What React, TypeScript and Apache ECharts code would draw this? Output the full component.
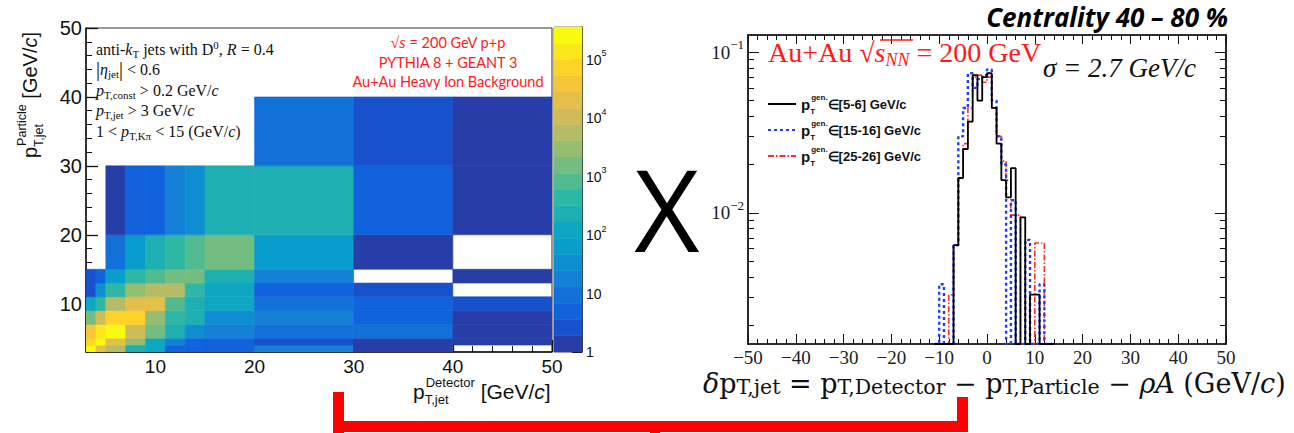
import React, { useEffect, useRef } from "react";
import * as echarts from "echarts";

/* ---------- jet pT response matrix (detector level vs particle level) ---------- */
const detectorPtEdges = [3, 4, 5, 7, 9, 11, 13, 15, 20, 30, 40, 50];
const particlePtEdges = [3, 4, 5, 7, 9, 11, 13, 15, 20, 30, 40];

// counts per cell; one array per particle-level bin, columns follow detectorPtEdges
const particleBin3to4 = [260000, 20000, 5700, 230, 120, 5, 5, 5, 18, 1, 0];
const particleBin4to5 = [73000, 260000, 20000, 3000, 120, 18, 5, 5, 3, 1, 1];
const particleBin5to7 = [39000, 140000, 260000, 11000, 1600, 230, 34, 18, 9, 9, 1];
const particleBin7to9 = [1600, 11000, 73000, 73000, 3000, 440, 230, 34, 18, 5, 1];
const particleBin9to11 = [120, 440, 5700, 20000, 20000, 830, 230, 120, 9, 5, 3];
const particleBin11to13 = [3, 34, 440, 3000, 5700, 5700, 440, 120, 5, 3, 0];
const particleBin13to15 = [3, 5, 64, 440, 830, 1600, 1600, 230, 18, 0, 1];
const particleBin15to20 = [0, 0, 9, 64, 230, 440, 830, 1600, 64, 1, 0];
const particleBin20to30 = [0, 0, 1, 5, 5, 18, 34, 230, 230, 5, 1];
const particleBin30to40 = [0, 0, 0, 0, 0, 0, 0, 0, 9, 3, 1];
const matrixRows = [
  particleBin3to4, particleBin4to5, particleBin5to7, particleBin7to9, particleBin9to11,
  particleBin11to13, particleBin13to15, particleBin15to20, particleBin20to30, particleBin30to40,
];

const zMax = 3.6e5;
const zLevels = 20;
const zLabelPowers = [0, 1, 2, 3, 4, 5];

/* ---------- delta pT distributions (1 GeV/c bins, low edges) ---------- */
const dptBinLow = [-11, -10, -9, -8, -7, -6, -5, -4, -3, -2, -1, 0, 1, 2, 3, 4, 5, 6, 7, 8, 9, 10, 11, 12, 13];
const dptBinWidth = 1;
const dptGen5to6 = [0, 0, 0, 0, 0.0063, 0.0165, 0.025, 0.037, 0.072, 0.05, 0.07, 0.074, 0.045, 0.027, 0.016, 0.0125, 0.019, 0, 0.0094, 0, 0.0031, 0.0031, 0, 0, 0];
const dptGen15to16 = [0, 0.0036, 0, 0, 0.0063, 0.03, 0.045, 0.074, 0.06, 0.068, 0.072, 0.078, 0.05, 0.03, 0.02, 0, 0.012, 0, 0, 0.0068, 0, 0, 0.0036, 0, 0];
const dptGen25to26 = [0, 0, 0, 0.0031, 0.0063, 0.0165, 0.027, 0.045, 0.07, 0.072, 0.065, 0.07, 0.045, 0.03, 0.021, 0.016, 0.0097, 0.0097, 0, 0, 0, 0.0065, 0.0065, 0, 0];
const dptRanges = ["[5-6]", "[15-16]", "[25-26]"];
const dptYMin = 1.53e-3;
const dptYMax = 0.128;

/* ---------- styling ---------- */
const SANS = "Liberation Sans";
const SERIF = "Liberation Serif";
const MATH = "DejaVu Serif";
const INK = "#111";
const RED = "#ff1a1a";

// ROOT kBird palette stops
const BIRD = [
  [0.2082, 0.1664, 0.5293], [0.0592, 0.3599, 0.8684], [0.078, 0.5041, 0.8385],
  [0.0232, 0.6419, 0.7914], [0.1802, 0.7178, 0.6425], [0.5301, 0.7492, 0.4662],
  [0.8186, 0.7328, 0.3499], [0.9956, 0.7862, 0.1968], [0.9764, 0.9832, 0.0539],
];

function birdColor(t: number) {
  const s = Math.max(0, Math.min(1, t)) * (BIRD.length - 1);
  const i = Math.min(BIRD.length - 2, Math.floor(s));
  const f = s - i;
  const c = BIRD[i].map((v, k) => Math.round(255 * (v + (BIRD[i + 1][k] - v) * f)));
  return `rgb(${c[0]},${c[1]},${c[2]})`;
}
const logZMax = Math.log10(zMax);
function levelOf(v: number) {
  return Math.max(0, Math.min(zLevels - 1, Math.floor((Math.log10(v) / logZMax) * zLevels)));
}
function levelColor(l: number) {
  return birdColor(Math.floor(((l + 0.99) * 255) / zLevels) / 254);
}

function range(a: number, b: number, step: number) {
  const r: number[] = [];
  for (let v = a; v <= b + 1e-9; v += step) r.push(Math.round(v * 1000) / 1000);
  return r;
}
function logMinor(lo: number, hi: number) {
  const r: number[] = [];
  for (let n = Math.floor(lo) - 1; n <= Math.ceil(hi); n++)
    for (let k = 2; k <= 9; k++) {
      const l = n + Math.log10(k);
      if (l > lo && l < hi) r.push(l);
    }
  return r;
}

const hmMajor = [10, 20, 30, 40, 50];
const hmMinor = range(4, 48, 2).filter((v) => v % 10 !== 0);
const dptMajor = range(-50, 50, 10);
const dptMinor = range(-48, 48, 2).filter((v) => v % 10 !== 0);

function tickAxis(extra: any, ticks: number[], len: number, line: boolean, width = 1) {
  return {
    type: "value",
    splitLine: { show: false },
    axisLine: { show: line, onZero: false, lineStyle: { color: INK, width: 1.5 } },
    axisTick: { show: true, inside: true, length: len, customValues: ticks, lineStyle: { color: INK, width } },
    axisLabel: { show: false },
    ...extra,
  };
}

// rich-text token style for graphic texts
function tok(family: string, size: number, lineHeight: number, fill: string, extra: any = {}) {
  return { fontFamily: family, fontSize: size, lineHeight, fill, ...extra };
}

function buildOption() {
  const matrixData: number[][] = [];
  matrixRows.forEach((row, j) =>
    row.forEach((c, i) => {
      if (c > 0) matrixData.push([detectorPtEdges[i], detectorPtEdges[i + 1], particlePtEdges[j], particlePtEdges[j + 1], c]);
    })
  );
  const levelData = Array.from({ length: zLevels }, (_, l) => [l]);

  const yLo = Math.log10(dptYMin);
  const yHi = Math.log10(dptYMax);
  const toLog = (v: number) => (v > 0 ? Math.log10(v) : yLo);
  const stepData = (vals: number[]) => {
    const pts = vals.map((v, i) => [dptBinLow[i], toLog(v)]);
    pts.push([dptBinLow[vals.length - 1] + dptBinWidth, toLog(vals[vals.length - 1])]);
    return pts;
  };
  const dptNames = dptRanges.map((r) => "gen " + r);
  const dptSets = [dptGen5to6, dptGen15to16, dptGen25to26];
  const dptStyles = [
    { color: "#000000", width: 1.8, type: "solid" },
    { color: "#1f3cff", width: 2.4, type: [3, 3] },
    { color: "#ff2b2b", width: 1.6, type: [6, 2, 1.5, 2] },
  ];

  const supLabel = (size: number, family: string) => ({
    s: { fontFamily: family, fontSize: size, lineHeight: size, verticalAlign: "top", color: INK },
  });

  const annRich = {
    n: tok(SERIF, 16, 20, INK),
    i: tok(SERIF, 16, 20, INK, { fontStyle: "italic" }),
    bar: tok(SERIF, 20, 20, INK),
    sb: tok(SERIF, 11, 10, INK, { verticalAlign: "bottom" }),
    ks: tok(SERIF, 11, 12, INK, { verticalAlign: "bottom" }),
    sp: tok(SERIF, 11, 11, INK, { verticalAlign: "top" }),
  };
  const titleRich = (main: number, small: number) => ({
    p: tok(SANS, main, 30, INK),
    n: tok(SANS, main, 30, INK),
    i: tok(SANS, main, 30, INK, { fontStyle: "italic" }),
    sp: tok(SANS, small, 16, INK, { verticalAlign: "top" }),
    sb: tok(SANS, small, 12, INK, { verticalAlign: "bottom", width: 1 }),
  });

  return {
    animation: false,
    backgroundColor: "#ffffff",
    textStyle: { fontFamily: SANS },
    grid: [
      { left: 86, top: 28, width: 466, height: 324, show: true, borderColor: "#333", borderWidth: 1, backgroundColor: "transparent" },
      { left: 554, top: 27, width: 28, height: 325, show: true, borderColor: "#777", borderWidth: 1, backgroundColor: "transparent" },
      { left: 748, top: 35, width: 478, height: 309, show: true, borderColor: INK, borderWidth: 1.2, backgroundColor: "transparent" },
    ],
    xAxis: [
      {
        ...tickAxis({ gridIndex: 0, min: 3, max: 50, position: "bottom" }, hmMajor, 12, true, 1.3),
        axisLabel: { show: true, customValues: hmMajor, margin: 5, fontFamily: SANS, fontSize: 19, color: INK },
      },
      tickAxis({ gridIndex: 0, min: 3, max: 50, position: "bottom" }, hmMinor, 6, false),
      { gridIndex: 1, type: "value", min: 0, max: 1, show: false },
      {
        ...tickAxis({ gridIndex: 2, min: -50, max: 50, position: "bottom" }, dptMajor, 10, true),
        axisLabel: {
          show: true, customValues: dptMajor, margin: 4, fontFamily: SERIF, fontSize: 19, color: "#222",
          formatter: (v: number) => (v < 0 ? "\u2212" + Math.abs(v) : String(v)),
        },
      },
      tickAxis({ gridIndex: 2, min: -50, max: 50, position: "bottom" }, dptMinor, 5, false),
      tickAxis({ gridIndex: 2, min: -50, max: 50, position: "top" }, dptMajor, 9, true),
      tickAxis({ gridIndex: 2, min: -50, max: 50, position: "top" }, dptMinor, 5, false),
    ],
    yAxis: [
      {
        ...tickAxis({ gridIndex: 0, min: 3, max: 50, position: "left" }, hmMajor, 12, true, 1.3),
        axisLabel: { show: true, customValues: hmMajor, margin: 4, fontFamily: SANS, fontSize: 20, color: INK },
      },
      tickAxis({ gridIndex: 0, min: 3, max: 50, position: "left" }, hmMinor, 6, false),
      {
        ...tickAxis({ gridIndex: 1, min: 0, max: logZMax, position: "right" }, zLabelPowers, 10, true),
        axisLabel: {
          show: true, customValues: zLabelPowers, margin: 4, fontFamily: SANS, fontSize: 14, lineHeight: 22, color: INK,
          formatter: (v: number) => (v === 0 ? "1" : v === 1 ? "10" : `10{s|${v}}`),
          rich: supLabel(9, SANS),
        },
      },
      tickAxis({ gridIndex: 1, min: 0, max: logZMax, position: "right" }, logMinor(0, logZMax), 5, false),
      {
        ...tickAxis({ gridIndex: 2, min: yLo, max: yHi, position: "left" }, [-2, -1], 11, true),
        axisLabel: {
          show: true, customValues: [-2, -1], margin: 4, fontFamily: SERIF, fontSize: 19, lineHeight: 28, color: "#222",
          formatter: (v: number) => `10{s|\u2212${Math.abs(v)}}`,
          rich: supLabel(13, SERIF),
        },
      },
      tickAxis({ gridIndex: 2, min: yLo, max: yHi, position: "left" }, logMinor(yLo, yHi), 6, false),
      tickAxis({ gridIndex: 2, min: yLo, max: yHi, position: "right" }, [-2, -1], 11, true),
      tickAxis({ gridIndex: 2, min: yLo, max: yHi, position: "right" }, logMinor(yLo, yHi), 6, false),
    ],
    legend: {
      show: true,
      orient: "vertical",
      left: 762,
      top: 88,
      itemWidth: 28,
      itemHeight: 12,
      itemGap: 4,
      selectedMode: false,
      itemStyle: { opacity: 0 },
      data: dptNames,
      formatter: (name: string) => `{p|p}{t|T}{g|gen.}{r|\u2208${dptRanges[dptNames.indexOf(name)]} GeV/c}`,
      textStyle: {
        color: INK,
        fontFamily: SANS,
        fontWeight: "bold",
        fontSize: 13,
        rich: {
          p: { fontFamily: SANS, fontWeight: "bold", fontSize: 15, lineHeight: 22, color: INK },
          t: { fontFamily: SANS, fontWeight: "bold", fontSize: 8, lineHeight: 9, verticalAlign: "bottom", width: 1, align: "left", color: INK },
          g: { fontFamily: SANS, fontWeight: "bold", fontSize: 8, lineHeight: 9, verticalAlign: "top", color: INK },
          r: { fontFamily: SANS, fontWeight: "bold", fontSize: 13, lineHeight: 22, color: INK },
        },
      },
    },
    series: [
      {
        type: "custom",
        name: "response",
        xAxisIndex: 0,
        yAxisIndex: 0,
        clip: true,
        encode: { x: [0, 1], y: [2, 3] },
        data: matrixData,
        renderItem: (_p: any, api: any) => {
          const a = api.coord([api.value(0), api.value(3)]);
          const b = api.coord([api.value(1), api.value(2)]);
          const col = levelColor(levelOf(api.value(4)));
          return {
            type: "rect",
            shape: { x: a[0], y: a[1], width: b[0] - a[0], height: b[1] - a[1] },
            style: { fill: col, stroke: col, lineWidth: 0.6 },
          };
        },
      },
      {
        type: "custom",
        name: "palette",
        xAxisIndex: 2,
        yAxisIndex: 2,
        encode: { y: 0 },
        data: levelData,
        renderItem: (_p: any, api: any) => {
          const l = api.value(0);
          const a = api.coord([0, ((l + 1) * logZMax) / zLevels]);
          const b = api.coord([1, (l * logZMax) / zLevels]);
          const col = levelColor(l);
          return {
            type: "rect",
            shape: { x: a[0], y: a[1], width: b[0] - a[0], height: b[1] - a[1] },
            style: { fill: col, stroke: col, lineWidth: 0.5 },
          };
        },
      },
      ...dptSets.map((vals, k) => ({
        type: "line",
        name: dptNames[k],
        xAxisIndex: 3,
        yAxisIndex: 4,
        step: "end",
        symbol: "none",
        clip: true,
        data: stepData(vals),
        lineStyle: dptStyles[k],
        itemStyle: { color: dptStyles[k].color },
        z: 3 + (2 - k),
      })),
    ],
    graphic: [
      // selection cuts of the response matrix
      ...[
        "{n|anti-}{i|k}{ks|T}{n| jets with D}{sp|0}{n|, }{i|R}{n| = 0.4}",
        "{bar||}{i|\u03b7}{sb|jet}{bar||}{n| < 0.6}",
        "{i|p}{sb|T,const}{n| > 0.2 GeV/}{i|c}",
        "{i|p}{sb|T,jet}{n| > 3 GeV/}{i|c}",
        "{n|1 < }{i|p}{sb|T,K\u03c0}{n| < 15 (GeV/}{i|c}{n|)}",
      ].map((t, k) => ({
        type: "text",
        x: 96,
        y: [49, 69, 90, 110, 131][k],
        z: 100,
        style: { text: t, align: "left", verticalAlign: "middle", fill: INK, rich: annRich },
      })),
      // simulation labels
      ...["{m|\u221a}{mi|s}{r| = 200 GeV p+p}", "{r|PYTHIA 8 + GEANT 3}", "{r|Au+Au Heavy Ion Background}"].map((t, k) => ({
        type: "text",
        x: 448,
        y: [42, 62, 81][k],
        z: 100,
        style: {
          text: t,
          align: "center",
          verticalAlign: "middle",
          fill: RED,
          rich: {
            r: tok("Lato", 14.5, 18, RED),
            m: tok(SERIF, 16, 18, RED),
            mi: tok(SERIF, 16, 18, RED, { fontStyle: "italic" }),
          },
        },
      })),
      // response-matrix axis titles (laid out from their starting point)
      {
        type: "text",
        x: 30,
        y: 158,
        rotation: Math.PI / 2,
        z: 100,
        style: {
          text: "{p|p}{sb|T,jet}{sp|Particle}{n| [GeV/}{i|c}{n|]}",
          align: "left",
          verticalAlign: "middle",
          fill: INK,
          rich: titleRich(20, 12.5),
        },
      },
      {
        type: "text",
        x: 413,
        y: 391,
        z: 100,
        style: {
          text: "{p|p}{sb|T,jet}{sp|Detector}{n| [GeV/}{i|c}{n|]}",
          align: "left",
          verticalAlign: "middle",
          fill: INK,
          rich: titleRich(21, 13),
        },
      },
      // product sign between the panels
      {
        type: "text",
        x: 667,
        y: 208,
        z: 100,
        style: { text: "X", fontFamily: "Open Sans", fontSize: 113, align: "center", verticalAlign: "middle", fill: "#000" },
      },
      // right panel annotations
      {
        type: "text",
        x: 1228,
        y: 17,
        z: 100,
        style: { text: "Centrality 40 \u2013 80 %", fontFamily: "Open Sans", fontWeight: "bold", fontStyle: "italic", fontSize: 26, lineHeight: 26, align: "right", verticalAlign: "middle", fill: "#000" },
      },
      {
        type: "text",
        x: 768,
        y: 52,
        z: 100,
        style: {
          text: "{a|Au+Au \u221a}{ai|s}{as|NN}{a| = 200 GeV}",
          align: "left",
          verticalAlign: "middle",
          fill: RED,
          rich: {
            a: tok(SERIF, 28, 34, RED),
            ai: tok(SERIF, 28, 34, RED, { fontStyle: "italic" }),
            as: tok(SERIF, 18, 18, RED, { fontStyle: "italic", verticalAlign: "bottom" }),
          },
        },
      },
      // radical bar over s_NN
      { type: "line", z: 100, shape: { x1: 880, y1: 40, x2: 913, y2: 40 }, style: { stroke: RED, lineWidth: 1.3 } },
      {
        type: "text",
        x: 1043,
        y: 68,
        z: 100,
        style: { text: "\u03c3 = 2.7 GeV/c", fontFamily: SERIF, fontStyle: "italic", fontSize: 27, align: "left", verticalAlign: "middle", fill: "#111" },
      },
      {
        type: "text",
        x: 703,
        y: 383,
        z: 100,
        style: {
          text: "{mi|\u03b4}{m|p}{s|T,jet}{m| = p}{s|T,Detector}{m| \u2212 p}{s|T,Particle}{m| \u2212 }{mi|\u03c1A}{m| (GeV/}{mi|c}{m|)}",
          align: "left",
          verticalAlign: "middle",
          fill: "#111",
          rich: {
            m: tok(MATH, 27, 28, "#111"),
            mi: tok(MATH, 27, 28, "#111", { fontStyle: "italic" }),
            s: tok(MATH, 20.5, 17, "#111", { verticalAlign: "bottom" }),
          },
        },
      },
      // red bracket joining the detector-level axis and the delta pT definition
      { type: "rect", z: 100, shape: { x: 333, y: 392, width: 11, height: 41 }, style: { fill: "#ff0000" } },
      { type: "rect", z: 100, shape: { x: 333, y: 421, width: 635, height: 11 }, style: { fill: "#ff0000" } },
      { type: "rect", z: 100, shape: { x: 957, y: 397, width: 11, height: 35 }, style: { fill: "#ff0000" } },
      { type: "rect", z: 100, shape: { x: 650, y: 430, width: 10, height: 3 }, style: { fill: "#ff0000" } },
    ],
  };
}

export default function App() {
  const ref = useRef<HTMLDivElement>(null);
  useEffect(() => {
    if (!ref.current) return;
    const chart = echarts.init(ref.current, undefined, { renderer: "svg" });
    chart.setOption(buildOption() as any);
    return () => chart.dispose();
  }, []);
  return (
    <div
      ref={ref}
      style={{ position: "absolute", left: 0, top: 0, width: 1294, height: 433, background: "#fff" }}
    />
  );
}
